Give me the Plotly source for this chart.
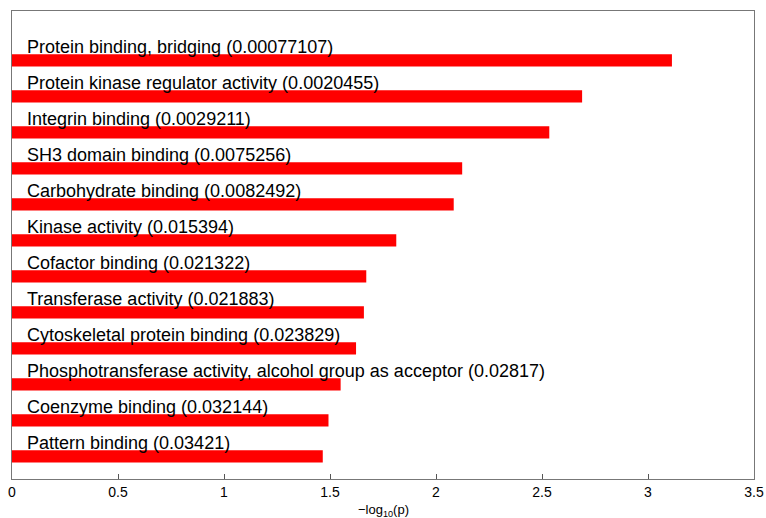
import plotly.graph_objects as go

terms = [
    "Protein binding, bridging",
    "Protein kinase regulator activity",
    "Integrin binding",
    "SH3 domain binding",
    "Carbohydrate binding",
    "Kinase activity",
    "Cofactor binding",
    "Transferase activity",
    "Cytoskeletal protein binding",
    "Phosphotransferase activity, alcohol group as acceptor",
    "Coenzyme binding",
    "Pattern binding",
]
p_labels = ["0.00077107", "0.0020455", "0.0029211", "0.0075256", "0.0082492",
            "0.015394", "0.021322", "0.021883", "0.023829", "0.02817",
            "0.032144", "0.03421"]
neglog_p = [3.1129, 2.6892, 2.5344, 2.1235, 2.0836, 1.8126,
            1.6711, 1.6599, 1.6229, 1.5502, 1.4929, 1.4659]
x_ticks = [0, 0.5, 1, 1.5, 2, 2.5, 3, 3.5]
x_tick_labels = ["0", "0.5", "1", "1.5", "2", "2.5", "3", "3.5"]

n = len(terms)
ypos = [n - i for i in range(n)]

fig = go.Figure()
fig.add_trace(go.Bar(
    x=neglog_p, y=ypos, orientation="h", width=0.34,
    marker=dict(color="#ff0000", line=dict(width=0)),
    hoverinfo="skip",
))

for t, p, y in zip(terms, p_labels, ypos):
    fig.add_annotation(
        x=0, y=y, xref="x", yref="y", text=f"{t} ({p})",
        showarrow=False, xanchor="left", yanchor="middle",
        xshift=13, yshift=13,
        font=dict(family="Liberation Sans, Arial", size=18, color="#000"),
    )

fig.add_annotation(
    x=0.5, y=0, xref="paper", yref="paper", text="−log<sub>10</sub>(p)",
    showarrow=False, xanchor="center", yanchor="middle", yshift=-31,
    font=dict(family="Liberation Sans, Arial", size=13, color="#000"),
)

axis_common = dict(showline=True, linecolor="#777", linewidth=1, mirror=True,
                   showgrid=False, zeroline=False, automargin=False)
fig.update_layout(
    width=766, height=518,
    margin=dict(l=12, r=12, t=10.5, b=39),
    paper_bgcolor="white", plot_bgcolor="white",
    showlegend=False,
    font=dict(family="Liberation Sans, Arial", color="#000"),
    xaxis=dict(range=[0, 3.5], tickvals=x_ticks, ticktext=x_tick_labels,
               ticks="inside", ticklen=5, tickcolor="#555",
               tickfont=dict(size=14), **axis_common),
    yaxis=dict(range=[0.37, 13.37], showticklabels=False, ticks="", **axis_common),
)
fig.write_html(
    "out.html",
    config={"displayModeBar": False, "staticPlot": True},
    post_script="document.body.style.margin='0';document.body.style.overflow='hidden';",
)
